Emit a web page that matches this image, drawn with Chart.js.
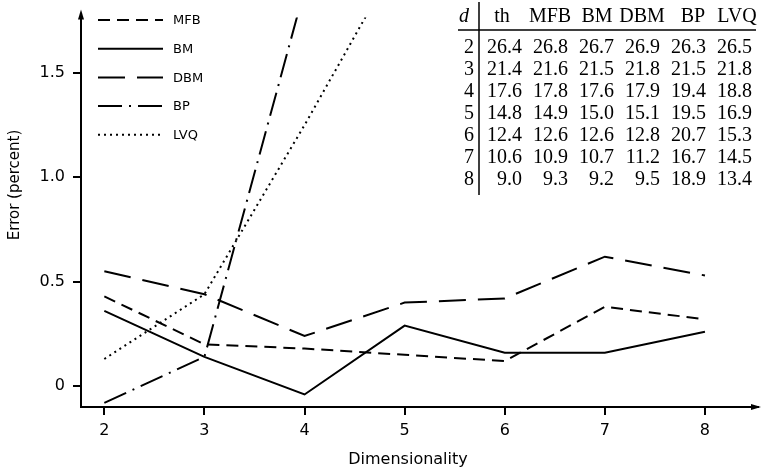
<!DOCTYPE html>
<html lang="en">
<head>
  <meta charset="UTF-8" />
  <title>Error vs Dimensionality</title>
  <script src="https://cdn.jsdelivr.net/npm/chart.js@4.4.0/dist/chart.umd.min.js"></script>
  <style>
    html, body { margin: 0; padding: 0; background: #fff; }
    #wrap { width: 761px; height: 471px; }
  </style>
</head>
<body>
  <div id="wrap"><canvas id="errChart" width="761" height="471"></canvas></div>

  <script>
    // plotted error above theoretical (percent)
    const dims = [2, 3, 4, 5, 6, 7, 8];
    const mfb = [0.43, 0.20, 0.18, 0.15, 0.12, 0.38, 0.32];
    const bm  = [0.36, 0.14, -0.04, 0.29, 0.16, 0.16, 0.26];
    const dbm = [0.55, 0.44, 0.24, 0.40, 0.42, 0.62, 0.53];
    const bp  = [-0.08, 0.14, 1.9, 4.7, 8.3, 6.1, 9.9];
    const lvq = [0.13, 0.44, 1.25, 2.1, 2.9, 3.9, 4.4];

    const xTicks = [2, 3, 4, 5, 6, 7, 8];
    const yTicks = [0, 0.5, 1.0, 1.5];
    const yTickLabels = ['0', '0.5', '1.0', '1.5'];

    // inset table
    const tableHead = ['th', 'MFB', 'BM', 'DBM', 'BP', 'LVQ'];
    const tableD   = [2, 3, 4, 5, 6, 7, 8];
    const tableTh  = [26.4, 21.4, 17.6, 14.8, 12.4, 10.6, 9.0];
    const tableMfb = [26.8, 21.6, 17.8, 14.9, 12.6, 10.9, 9.3];
    const tableBm  = [26.7, 21.5, 17.6, 15.0, 12.6, 10.7, 9.2];
    const tableDbm = [26.9, 21.8, 17.9, 15.1, 12.8, 11.2, 9.5];
    const tableBp  = [26.3, 21.5, 19.4, 19.5, 20.7, 16.7, 18.9];
    const tableLvq = [26.5, 21.8, 18.8, 16.9, 15.3, 14.5, 13.4];

    const axisFont = '"DejaVu Sans", sans-serif';

    const overlay = {
      id: 'overlay',
      afterDraw(chart) {
        const ctx = chart.ctx;
        const a = chart.chartArea;
        ctx.save();
        ctx.fillStyle = '#000';
        ctx.strokeStyle = '#000';

        // axis arrows
        ctx.beginPath();
        ctx.moveTo(a.left, a.top - 8);
        ctx.lineTo(a.left - 3, a.top + 2);
        ctx.lineTo(a.left + 3, a.top + 2);
        ctx.fill();
        ctx.beginPath();
        ctx.moveTo(a.right + 3, a.bottom);
        ctx.lineTo(a.right - 7, a.bottom - 3);
        ctx.lineTo(a.right - 7, a.bottom + 3);
        ctx.fill();

        // axis titles
        ctx.textAlign = 'center';
        ctx.textBaseline = 'middle';
        ctx.font = '16px ' + axisFont;
        ctx.fillText('Dimensionality', 408, 460);
        ctx.save();
        ctx.translate(15, 185);
        ctx.rotate(-Math.PI / 2);
        ctx.font = '15px ' + axisFont;
        ctx.fillText('Error (percent)', 0, 0);
        ctx.restore();

        // legend
        ctx.textAlign = 'left';
        ctx.font = '13px ' + axisFont;
        chart.data.datasets.forEach((ds, i) => {
          const y = 20 + i * 28.7;
          ctx.lineWidth = ds.borderWidth;
          ctx.setLineDash(ds.borderDash || []);
          ctx.beginPath();
          ctx.moveTo(98, y);
          ctx.lineTo(163, y);
          ctx.stroke();
          ctx.setLineDash([]);
          ctx.fillText(ds.label, 173, y + 1);
        });

        // table
        const cols = [tableTh, tableMfb, tableBm, tableDbm, tableBp, tableLvq];
        const headX = [502, 550, 597, 642, 693, 737];
        const rightX = [522, 568, 614, 660, 706, 752];
        ctx.font = 'italic 20px "Liberation Serif", serif';
        ctx.textAlign = 'center';
        ctx.fillText('d', 464, 17);
        ctx.font = '20px "Liberation Serif", serif';
        tableHead.forEach((h, j) => ctx.fillText(h, headX[j], 17));
        ctx.textAlign = 'right';
        tableD.forEach((d, i) => {
          const y = 48 + i * 22;
          ctx.fillText(String(d), 474, y);
          cols.forEach((c, j) => ctx.fillText(c[i].toFixed(1), rightX[j], y));
        });
        ctx.lineWidth = 1.5;
        ctx.beginPath();
        ctx.moveTo(479, 2);
        ctx.lineTo(479, 195);
        ctx.moveTo(458, 30);
        ctx.lineTo(756, 30);
        ctx.stroke();

        ctx.restore();
      }
    };

    const line = (label, data, dash) => ({
      label, data,
      borderColor: '#000',
      borderWidth: 2,
      borderDash: dash,
      pointRadius: 0,
      tension: 0,
      fill: false
    });

    new Chart(document.getElementById('errChart'), {
      type: 'line',
      data: {
        labels: dims,
        datasets: [
          line('MFB', mfb, [12, 7]),
          line('BM', bm, []),
          line('DBM', dbm, [27, 12]),
          line('BP', bp, [24, 7, 2, 7]),
          line('LVQ', lvq, [2, 4])
        ]
      },
      options: {
        responsive: false,
        animation: false,
        layout: { padding: { top: 10, right: 3, left: 0, bottom: 0 } },
        plugins: {
          legend: { display: false },
          tooltip: { enabled: false }
        },
        scales: {
          x: {
            type: 'linear',
            min: 1.767,
            max: 8.53,
            afterBuildTicks: s => { s.ticks = xTicks.map(v => ({ value: v })); },
            afterFit: s => { s.height = 64; },
            grid: { drawOnChartArea: false, color: '#000', lineWidth: 2, tickLength: 8 },
            border: { display: true, color: '#000', width: 2 },
            ticks: { color: '#000', font: { family: axisFont, size: 16 }, padding: 6, maxRotation: 0 },
            title: { display: false }
          },
          y: {
            min: -0.1,
            max: 1.765,
            afterBuildTicks: s => { s.ticks = yTicks.map(v => ({ value: v })); },
            afterFit: s => { s.width = 81; },
            grid: { drawOnChartArea: false, color: '#000', lineWidth: 2, tickLength: 8 },
            border: { display: true, color: '#000', width: 2 },
            ticks: { color: '#000', font: { family: axisFont, size: 16 }, padding: 8,
                     callback: (v, i) => yTickLabels[i] },
            title: { display: false }
          }
        }
      },
      plugins: [overlay]
    });
  </script>
</body>
</html>
